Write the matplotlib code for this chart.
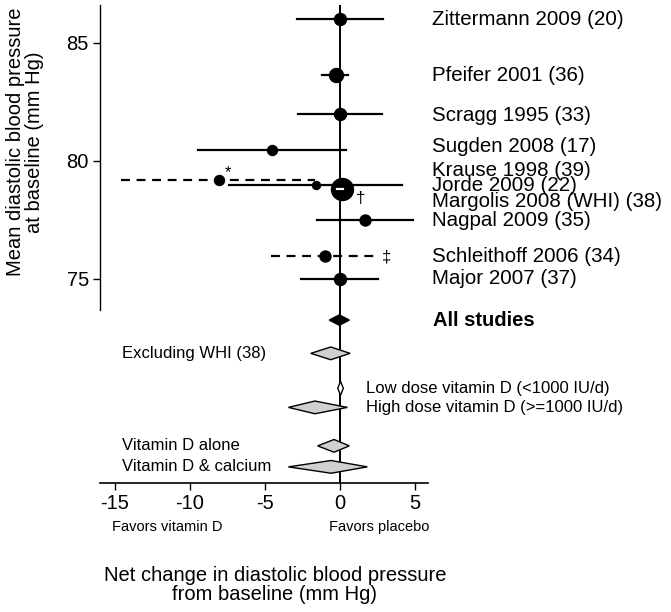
import matplotlib.pyplot as plt
from matplotlib.patches import Polygon

plt.rcParams['font.family'] = ['Liberation Sans', 'DejaVu Sans']
plt.rcParams['axes.unicode_minus'] = False

# individual trials
studies = ["Zittermann 2009 (20)", "Pfeifer 2001 (36)", "Scragg 1995 (33)",
           "Sugden 2008 (17)", "Krause 1998 (39)", "Jorde 2009 (22)",
           "Margolis 2008 (WHI) (38)", "Nagpal 2009 (35)",
           "Schleithoff 2006 (34)", "Major 2007 (37)"]
baseline = [86.0, 83.63, 82.0, 80.47, 79.18, 78.98, 78.79, 77.47, 75.96, 75.0]
effect = [0.0, -0.29, 0.0, -4.56, -8.04, -1.62, 0.11, 1.67, -1.0, 0.0]
ci_low = [-2.89, -1.18, -2.8, -9.47, -14.6, -7.4, -0.17, -1.51, -4.6, -2.62]
ci_high = [2.89, 0.51, 2.78, 0.4, -1.67, 4.15, 0.17, 4.89, 2.67, 2.55]
weight = [12, 14, 12, 10, 10, 8, 22, 11, 11, 12]   # marker diameter, px
dashed = [False, False, False, False, True, False, False, False, True, False]
footnote = ["", "", "", "", "*", "", "\u2020", "", "\u2021", ""]

# pooled estimates
pooled = ["All studies", "Excluding WHI (38)", "Low dose vitamin D (<1000 IU/d)",
          "High dose vitamin D (>=1000 IU/d)", "Vitamin D alone",
          "Vitamin D & calcium"]
pooled_est = [-0.05, -0.62, 0.03, -1.67, -0.4, -0.6]
pooled_lo = [-0.72, -1.95, -0.15, -3.44, -1.49, -3.44]
pooled_hi = [0.62, 0.67, 0.22, 0.49, 0.62, 1.82]

# layout
label_y = [86.0, 83.63, 81.93, 80.59, 79.58, 78.97, 78.26, 77.49, 75.93, 75.02]
pooled_y = [73.25, 71.84, 70.36, 69.55, 67.92, 67.03]
pooled_h = [0.22, 0.27, 0.3, 0.27, 0.27, 0.27]
pooled_fill = ["black", "#d0d0d0", "white", "#d0d0d0", "#d0d0d0", "#d0d0d0"]
pooled_tx = [6.2, -14.55, 1.75, 1.75, -14.55, -14.55]

fig = plt.figure(figsize=(6.71, 6.12), dpi=100)
ax = fig.add_axes([0.149, 0.2113, 0.489, 0.7805])
ax.set_xlim(-16.0, 5.87)
ax.set_ylim(66.36, 86.6)

ax.axvline(0, color="black", lw=1.4, zorder=1)

for i in range(len(studies)):
    ls = (0, (4, 3)) if dashed[i] else "-"
    ax.plot([ci_low[i], ci_high[i]], [baseline[i]] * 2, color="black",
            lw=1.6, ls=ls, zorder=2)
    ax.plot(effect[i], baseline[i], "o", color="black",
            ms=weight[i] * 0.72, zorder=3)
    ax.text(6.13, label_y[i], studies[i], fontsize=14.8, va="center",
            ha="left", clip_on=False)

# white CI inside the large WHI marker
ax.plot([ci_low[6], ci_high[6]], [baseline[6]] * 2, color="white", lw=1.6, zorder=4)

# footnote symbols
ax.text(-7.5, 79.49, footnote[4], fontsize=12, ha="center", va="center")
ax.text(1.35, 78.42, footnote[6], fontsize=12, ha="center", va="center")
ax.text(3.1, 75.93, footnote[8], fontsize=12, ha="center", va="center")

for i in range(len(pooled)):
    y, h = pooled_y[i], pooled_h[i]
    pts = [(pooled_lo[i], y), (pooled_est[i], y + h),
           (pooled_hi[i], y), (pooled_est[i], y - h)]
    ax.add_patch(Polygon(pts, closed=True, facecolor=pooled_fill[i],
                         edgecolor="black", lw=1.0, zorder=3))
    if i == 0:
        ax.text(pooled_tx[i], y, pooled[i], fontsize=14.5, fontweight="bold",
                va="center", ha="left", clip_on=False)
    else:
        ax.text(pooled_tx[i], y, pooled[i], fontsize=12, va="center", ha="left")

ax.spines["top"].set_visible(False)
ax.spines["right"].set_visible(False)
ax.spines["left"].set_bounds(73.67, 86.6)
ax.spines["left"].set_linewidth(1.0)
ax.spines["bottom"].set_linewidth(1.2)

ax.set_yticks([75, 80, 85])
ax.set_xticks([-15, -10, -5, 0, 5])
ax.tick_params(axis="both", direction="out", length=5, width=1.0,
               labelsize=14.5, pad=3)

fig.text(25 / 671, 1 - 142 / 612,
         "Mean diastolic blood pressure\nat baseline (mm Hg)", fontsize=14.5,
         rotation=90, ha="center", va="center", multialignment="center",
         linespacing=1.0)

fig.text(167.5 / 671, 1 - 526.7 / 612, "Favors vitamin D", fontsize=10.5,
         ha="center", va="center")
fig.text(379 / 671, 1 - 526.7 / 612, "Favors placebo", fontsize=10.5,
         ha="center", va="center")
fig.text(275 / 671, 1 - 585 / 612,
         "Net change in diastolic blood pressure\nfrom baseline (mm Hg)",
         fontsize=14.5, ha="center", va="center", multialignment="center",
         linespacing=1.0)

fig.savefig("out.png", dpi=100)
plt.close(fig)
